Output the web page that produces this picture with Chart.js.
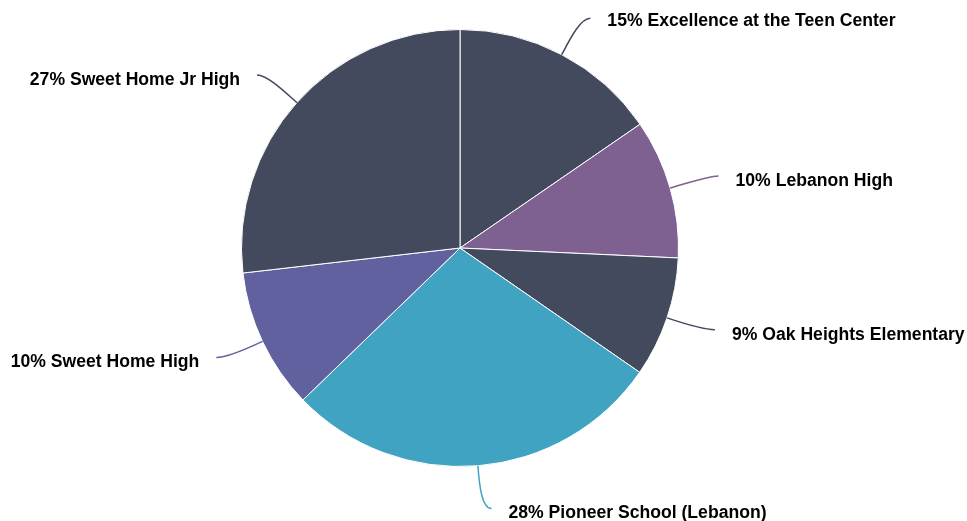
<!DOCTYPE html>
<html>
<head>
<meta charset="utf-8">
<script src="https://cdn.jsdelivr.net/npm/chart.js@4.4.0/dist/chart.umd.min.js"></script>
<style>
  html, body { margin: 0; padding: 0; background: #fff; }
  #wrap { width: 967px; height: 521px; }
</style>
</head>
<body>
<div id="wrap"><canvas id="myChart"></canvas></div>
<script>
// School share data
var labels = ['Excellence at the Teen Center', 'Lebanon High', 'Oak Heights Elementary',
              'Pioneer School (Lebanon)', 'Sweet Home High', 'Sweet Home Jr High'];
var values = [15.4, 10.3, 8.9, 28.1, 10.4, 26.8];
var colors = ['#434a5e', '#7e6191', '#434a5e', '#40a3c2', '#6161a0', '#434a5e'];

// Draws the outside labels with curved connectors
var outsideLabels = {
    id: 'outsideLabels',
    afterDatasetsDraw: function (chart) {
        var ctx = chart.ctx;
        var meta = chart.getDatasetMeta(0);
        var total = values.reduce(function (a, b) { return a + b; }, 0);
        ctx.save();
        ctx.font = 'bold 17.6px "Liberation Sans", Arial, sans-serif';
        ctx.textBaseline = 'middle';
        meta.data.forEach(function (arc, i) {
            var mid = (arc.startAngle + arc.endAngle) / 2;
            var r = arc.outerRadius;
            var cx = arc.x, cy = arc.y;
            var dx = Math.cos(mid), dy = Math.sin(mid);
            var s = dx >= 0 ? 1 : -1;
            var ex = cx + dx * r, ey = cy + dy * r;
            var d = 40 + (dy > 0.9 ? 4 : 0);
            var ax = cx + dx * (r + d), ay = cy + dy * (r + d);
            var lx = ax + s * 10, ly = ay - 1;

            ctx.strokeStyle = colors[i];
            ctx.lineWidth = 1.5;
            ctx.beginPath();
            ctx.moveTo(ex, ey);
            ctx.bezierCurveTo(ex + dx * 18, ey + dy * 18, lx - s * 10, ly, lx, ly);
            ctx.stroke();

            var pct = Math.round(values[i] / total * 100);
            ctx.fillStyle = '#000000';
            ctx.textAlign = s > 0 ? 'left' : 'right';
            ctx.fillText(pct + '% ' + labels[i], ax + s * 27, ay + (dy < -0.8 ? 2 : 4));
        });
        ctx.restore();
    }
};

var ctx = document.getElementById('myChart').getContext('2d');
var chart = new Chart(ctx, {
    type: 'pie',
    data: {
        labels: labels,
        datasets: [{
            data: values,
            backgroundColor: colors,
            borderColor: '#ffffff',
            borderWidth: 1,
            hoverOffset: 0
        }]
    },
    options: {
        responsive: true,
        maintainAspectRatio: false,
        animation: false,
        layout: {
            padding: { left: 241, right: 288, top: 29, bottom: 54 }
        },
        plugins: {
            legend: { display: false },
            tooltip: { enabled: false }
        }
    },
    plugins: [outsideLabels]
});
</script>
</body>
</html>
